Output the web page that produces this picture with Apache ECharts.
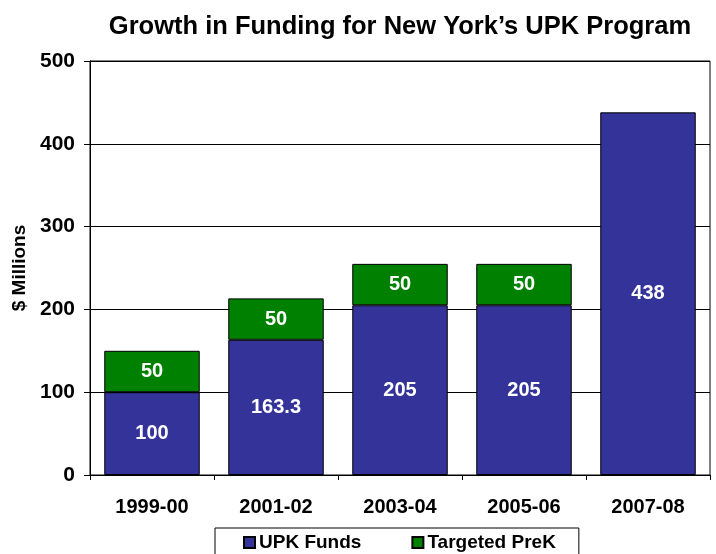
<!DOCTYPE html>
<html>
<head>
<meta charset="utf-8">
<script src="https://cdn.jsdelivr.net/npm/echarts@6/dist/echarts.min.js"></script>
<style>
  html, body { margin: 0; padding: 0; background: #fff; }
  #chart { width: 716px; height: 554px; }
</style>
</head>
<body>
<div id="chart"></div>
<script>
// 年度
var years = ['1999-00', '2001-02', '2003-04', '2005-06', '2007-08'];
// UPK 经费
var upkFunds = [100, 163.3, 205, 205, 438];
// Targeted PreK 经费
var targetedPreK = [50, 50, 50, 50, '-'];
var yTicks = [0, 100, 200, 300, 400, 500];

var myChart = echarts.init(document.getElementById('chart'));

var fontFam = '"Liberation Sans", Arial, sans-serif';

function barLabel() {
    return {
        show: true,
        position: 'inside',
        color: '#fff',
        fontFamily: fontFam,
        fontSize: 20,
        fontWeight: 'bold'
    };
}

myChart.setOption({
    animation: false,
    color: ['#333399', '#008000'],
    title: {
        text: 'Growth in Funding for New York\u2019s UPK Program',
        left: 395,
        textAlign: 'center',
        top: 9,
        textStyle: { fontFamily: fontFam, fontSize: 25.5, fontWeight: 'bold', color: '#000' }
    },
    legend: {
        data: ['UPK Funds', 'Targeted PreK'],
        left: 215,
        top: 528,
        padding: [5, 23, 12, 28],
        itemGap: 50,
        itemWidth: 11,
        itemHeight: 11,
        icon: 'rect',
        borderColor: '#000',
        borderWidth: 1,
        textStyle: { fontFamily: fontFam, fontSize: 19, fontWeight: 'bold', color: '#000', padding: [0, 0, 0, -1] }
    },
    grid: {
        left: 90,
        right: 6,
        top: 61,
        bottom: 79,
        containLabel: false,
        outerBoundsMode: 'none',
        show: true,
        borderColor: '#000',
        borderWidth: 1
    },
    xAxis: {
        type: 'category',
        data: years,
        axisLine: { lineStyle: { color: '#000' } },
        axisTick: { show: true, length: 5, lineStyle: { color: '#000' } },
        axisLabel: { fontFamily: fontFam, fontSize: 20, fontWeight: 'bold', color: '#000', margin: 22 }
    },
    yAxis: {
        type: 'value',
        min: yTicks[0],
        max: yTicks[yTicks.length - 1],
        interval: 100,
        name: '$ Millions',
        nameLocation: 'middle',
        nameGap: 60,
        nameRotate: 90,
        nameTextStyle: { fontFamily: fontFam, fontSize: 19, fontWeight: 'bold', color: '#000' },
        axisLine: { show: true, lineStyle: { color: '#000' } },
        axisTick: { show: true, length: 6, lineStyle: { color: '#000' } },
        axisLabel: { fontFamily: fontFam, fontSize: 21, fontWeight: 'bold', color: '#000', margin: 15 },
        splitLine: { show: true, lineStyle: { color: '#000', width: 1 } }
    },
    series: [
        {
            name: 'UPK Funds',
            type: 'bar',
            stack: 'total',
            barWidth: '77%',
            data: upkFunds,
            itemStyle: { borderColor: '#000', borderWidth: 1 },
            label: barLabel()
        },
        {
            name: 'Targeted PreK',
            type: 'bar',
            stack: 'total',
            barWidth: '77%',
            data: targetedPreK,
            itemStyle: { borderColor: '#000', borderWidth: 1 },
            label: barLabel()
        }
    ]
});
</script>
</body>
</html>
